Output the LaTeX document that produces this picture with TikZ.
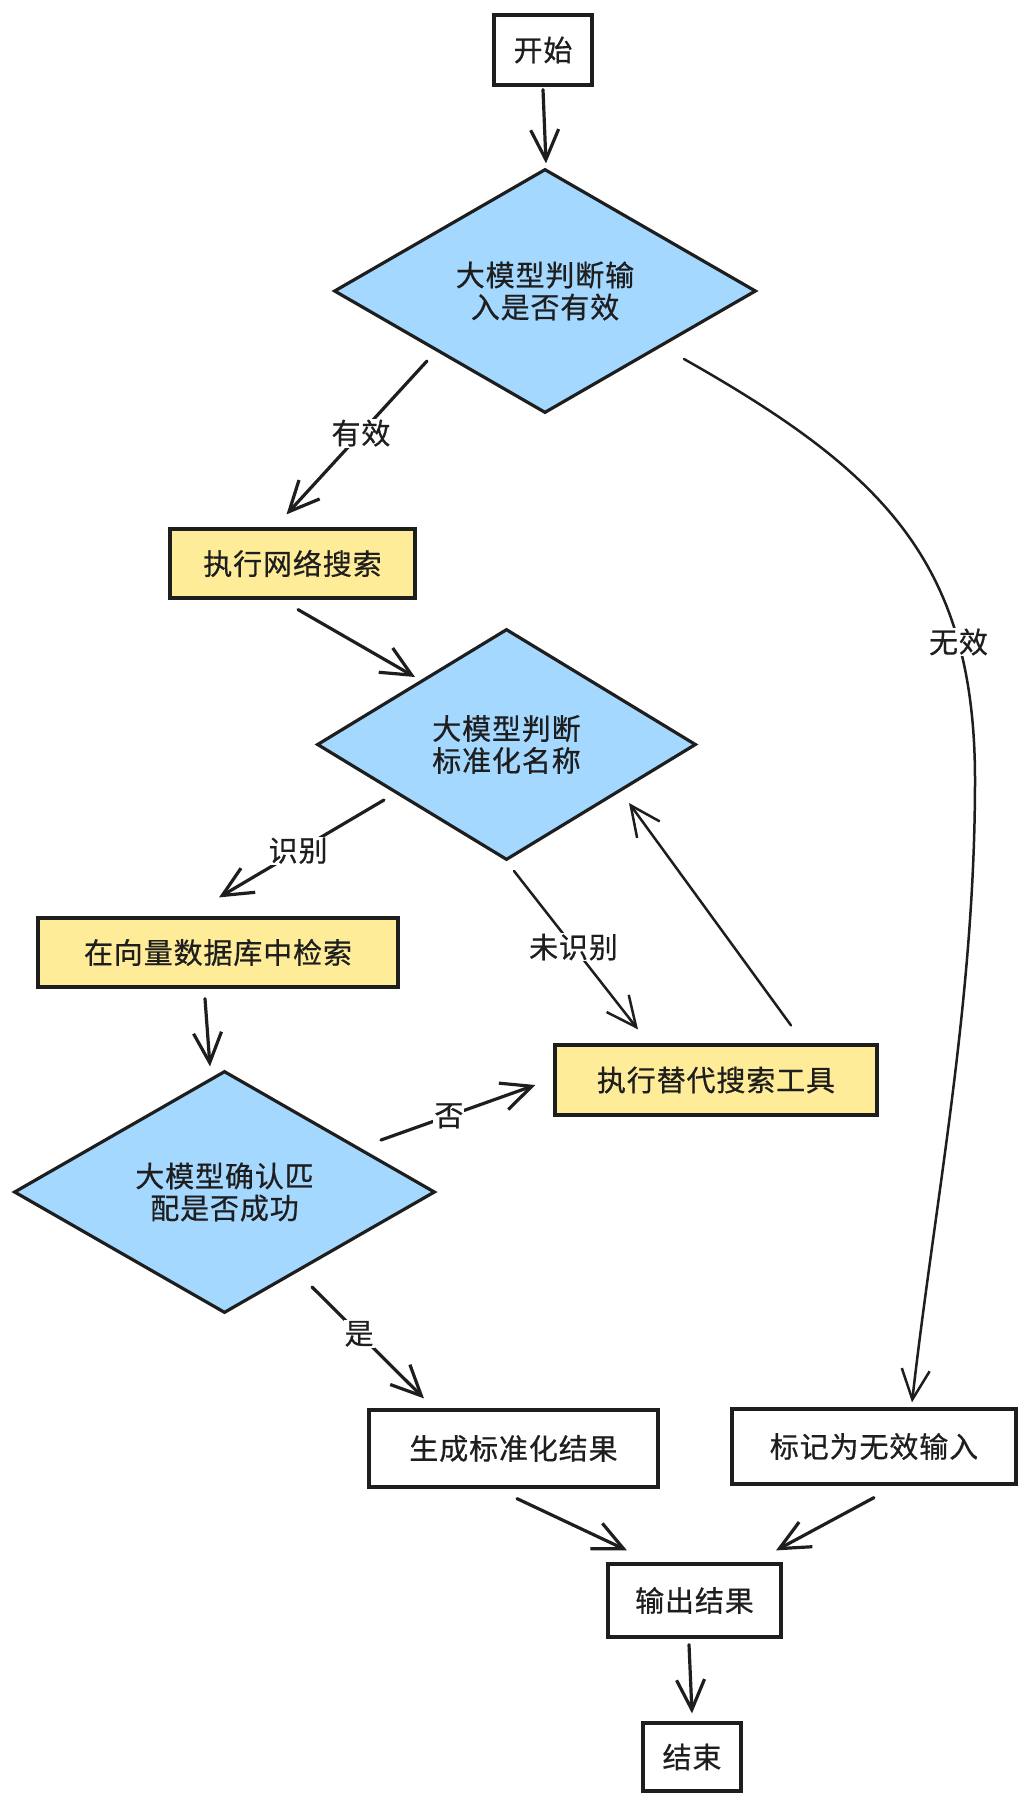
\documentclass[tikz,border=0pt]{standalone}
\usepackage{fontspec}
\setmainfont{Noto Sans CJK SC}[LetterSpace=3, FakeBold=0.6]
\usetikzlibrary{shapes.geometric,arrows.meta}
\definecolor{ink}{HTML}{1E1E1E}
\definecolor{decisionblue}{HTML}{A5D8FF}
\definecolor{actionyellow}{HTML}{FFEC99}
\begin{document}
\begin{tikzpicture}[x=1pt,y=-1pt,
  every node/.style={font=\fontsize{29}{32}\selectfont, text=ink},
  plainbox/.style={rectangle, draw=ink, line width=3.2pt, fill=white, inner sep=0pt},
  actbox/.style={plainbox, fill=actionyellow},
  decision/.style={diamond, draw=ink, line width=3.2pt, fill=decisionblue, inner sep=0pt, align=center},
  arr/.style={draw=ink, line width=3.2pt, line cap=round, line join=round,
    -{Straight Barb[length=30pt,width=28pt]}},
  thinarr/.style={arr, line width=2.5pt},
  lbl/.style={fill=white, inner sep=1pt},
]
\fill[white] (0,0) rectangle (1033,1809);
\useasboundingbox (0,0) rectangle (1033,1809);

% process nodes
\node[plainbox, minimum width=98pt, minimum height=70pt] (startnode) at (543,50) {开始};
\node[decision, minimum width=422pt, minimum height=244pt] (d1) at (545,291) {大模型判断输\\入是否有效};
\node[actbox, minimum width=245pt, minimum height=69pt] (b1) at (292.5,563.5) {执行网络搜索};
\node[decision, minimum width=379pt, minimum height=231pt] (d2) at (506.5,744.5) {大模型判断\\标准化名称};
\node[actbox, minimum width=360pt, minimum height=69pt] (b2) at (218,952.5) {在向量数据库中检索};
\node[decision, minimum width=421pt, minimum height=242pt] (d3) at (224.5,1192) {大模型确认匹\\配是否成功};
\node[actbox, minimum width=322pt, minimum height=70pt] (b3) at (716,1080) {执行替代搜索工具};
\node[plainbox, minimum width=289pt, minimum height=77pt] (b4) at (513.5,1448.5) {生成标准化结果};
\node[plainbox, minimum width=284pt, minimum height=75pt] (b5) at (874,1446.5) {标记为无效输入};
\node[plainbox, minimum width=173pt, minimum height=73pt] (b6) at (694.5,1600.5) {输出结果};
\node[plainbox, minimum width=98pt, minimum height=68pt] (endnode) at (692,1757) {结束};

% connectors
\draw[arr] ([shift={(0,3)}]startnode.south) -- ([shift={(1,-4)}]d1.north);
\draw[arr] ([shift={(-118,70)}]d1.center) -- node[lbl, pos=0.47] {有效} ([shift={(-6,-13)}]b1.north);
\draw[thinarr] ([shift={(139,68)}]d1.center)
  .. controls (880,470) and (975,560) .. (975,780) node[lbl, pos=0.76] {无效}
  .. controls (975,1000) and (935,1200) .. ([shift={(38,-5)}]b5.north);
\draw[arr] ([shift={(5.5,10)}]b1.south) -- ([shift={(-91.5,-67.5)}]d2.center);
\draw[arr] ([shift={(-122.5,55.5)}]d2.center) -- node[lbl, pos=0.52] {识别} ([shift={(1,-19)}]b2.north);
\draw[thinarr] ([shift={(7.5,126.5)}]d2.center) -- node[lbl, pos=0.48] {未识别} ([shift={(-78,-14)}]b3.north);
\draw[thinarr] ([shift={(75,-18)}]b3.north) -- ([shift={(122.5,58.5)}]d2.center);
\draw[arr] ([shift={(-13,10)}]b2.south) -- ([shift={(-14.5,-3)}]d3.north);
\draw[arr] ([shift={(156.5,-52)}]d3.center) -- node[lbl, pos=0.44] {否} ([shift={(-18,5)}]b3.west);
\draw[arr] ([shift={(87.5,95)}]d3.center) -- node[lbl, pos=0.42] {是} ([shift={(-89.5,-10)}]b4.north);
\draw[arr] ([shift={(3.5,10)}]b4.south) -- ([shift={(-67.5,-12)}]b6.north);
\draw[arr] ([shift={(0,12)}]b5.south) -- ([shift={(81.5,-12)}]b6.north);
\draw[arr] ([shift={(-5.5,6)}]b6.south) -- ([shift={(0,-8)}]endnode.north);
\end{tikzpicture}
\end{document}
